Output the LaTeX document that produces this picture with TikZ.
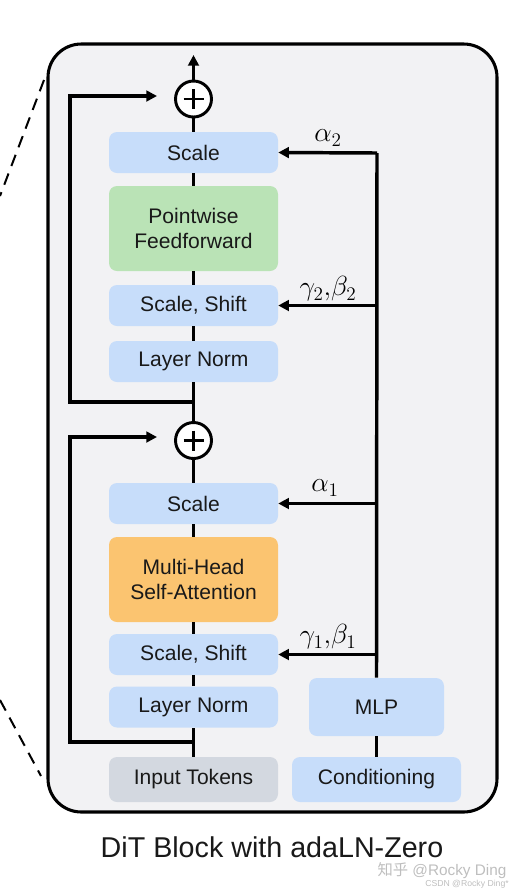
\documentclass[tikz,border=0pt]{standalone}
\usepackage{fontspec}
\setmainfont{Liberation Sans}
\newfontfamily\cjkfont{Noto Sans CJK SC}
\usetikzlibrary{arrows.meta}
\definecolor{bgc}{RGB}{242,242,244}
\definecolor{blueb}{RGB}{199,221,250}
\definecolor{greenb}{RGB}{186,227,182}
\definecolor{orangeb}{RGB}{251,196,112}
\definecolor{grayb}{RGB}{211,216,224}
\definecolor{wm}{RGB}{190,190,190}
\tikzset{
  blk/.style={rounded corners=6pt, inner sep=0pt, minimum width=126.75pt, minimum height=30.75pt,
    font=\fontsize{15.8}{18.5}\selectfont, align=center, text=black!90},
  bluebox/.style={blk, fill=blueb},
  bigbox/.style={blk, minimum height=63.75pt},
  addnode/.style={circle, draw=black, fill=white, line width=2.2pt, minimum size=27pt, inner sep=0pt},
  conn/.style={line width=2.6pt, draw=black},
  arr/.style={conn, -{Triangle[length=8pt,width=8pt]}},
  lbl/.style={font=\fontsize{21}{24}\selectfont, inner sep=0pt},
}
\begin{document}
\begin{tikzpicture}[x=0.75pt,y=-0.75pt]
\useasboundingbox (0,0) rectangle (518,894);
% outer block
\draw[line width=2.3pt, fill=bgc, rounded corners=25pt] (48,44) rectangle (497,812);
% dashed zoom lines
\draw[line width=1.5pt, dash pattern=on 9pt off 6pt] (44,80) -- (0,196);
\draw[line width=1.5pt, dash pattern=on 9pt off 6pt] (0,700) -- (41,776);

% boxes
\node[bluebox] (scale2) at (193.5,152.5) {Scale};
\node[bigbox, fill=greenb] (ff) at (193.5,228.5) {Pointwise\\Feedforward};
\node[bluebox] (ss2) at (193.5,305.5) {Scale, Shift};
\node[bluebox] (ln2) at (193.5,361.5) {Layer Norm};
\node[bluebox] (scale1) at (193.5,503.5) {Scale};
\node[bigbox, fill=orangeb] (mhsa) at (193.5,579.5) {Multi-Head\\Self-Attention};
\node[bluebox] (ss1) at (193.5,654.5) {Scale, Shift};
\node[bluebox] (ln1) at (193.5,707) {Layer Norm};
\node[blk, fill=grayb, minimum height=33.75pt] (inp) at (193.5,779.5) {Input Tokens};
\node[blk, fill=blueb, minimum width=101.25pt, minimum height=43.5pt] (mlp) at (376.5,707) {MLP};
\node[blk, fill=blueb, minimum height=33.75pt] (cond) at (376.5,779.5) {Conditioning};

% adders
\node[addnode] (plus2) at (193.5,99) {};
\node[addnode] (plus1) at (193.5,440.5) {};
\foreach \p in {plus1,plus2}{
  \draw[line width=2pt] (\p.center) ++(-10,0) -- ++(20,0);
  \draw[line width=2pt] (\p.center) ++(0,-10) -- ++(0,20);
}

% coordinates
\coordinate (top) at (193.5,55);
\coordinate (j1) at (193.5,742);
\coordinate (j2) at (193.5,402);
\coordinate (r1) at (157,437);
\coordinate (r2) at (157,96);
\coordinate (m4) at (377,153);
\coordinate (m3) at (377,305.5);
\coordinate (m2) at (377,503.5);
\coordinate (m1) at (377,654.5);

% main spine
\draw[conn] (inp.north) -- (ln1.south);
\draw[conn] (ln1.north) -- (ss1.south);
\draw[conn] (ss1.north) -- (mhsa.south);
\draw[conn] (mhsa.north) -- (scale1.south);
\draw[conn] (scale1.north) -- (plus1.south);
\draw[conn] (plus1.north) -- (ln2.south);
\draw[conn] (ln2.north) -- (ss2.south);
\draw[conn] (ss2.north) -- (ff.south);
\draw[conn] (ff.north) -- (scale2.south);
\draw[conn] (scale2.north) -- (plus2.south);
\draw[arr] (plus2.north) -- (top);

% residuals
\draw[arr] (j1) -| (70,437) -- (r1);
\draw[arr] (j2) -| (70,96) -- (r2);

% conditioning branch
\draw[conn] (cond.north) -- (mlp.south);
\draw[conn] (mlp.north) -- (m4);
\draw[arr] (m4) -- (scale2.east);
\draw[arr] (m3) -- (ss2.east);
\draw[arr] (m2) -- (scale1.east);
\draw[arr] (m1) -- (ss1.east);

% labels
\node[lbl] (a2) at (328,138) {$\alpha_2$};
\node[lbl] (gb2) at (328,289) {$\gamma_2,\!\beta_2$};
\node[lbl] (a1) at (325,488) {$\alpha_1$};
\node[lbl] (gb1) at (328,637) {$\gamma_1,\!\beta_1$};

% caption
\node[font=\fontsize{21.5}{25}\selectfont, text=black!90, inner sep=0pt] (cap) at (272,847) {DiT Block with adaLN-Zero};

% watermark
\node[text=wm, font=\fontsize{11.5}{13}\selectfont, inner sep=0pt] (wm1) at (442,871) {{\cjkfont 知乎} @Rocky Ding};
\node[text=wm, font=\fontsize{6.5}{8}\selectfont, inner sep=0pt] (wm2) at (467,884) {CSDN @Rocky Ding*};
\end{tikzpicture}
\end{document}
